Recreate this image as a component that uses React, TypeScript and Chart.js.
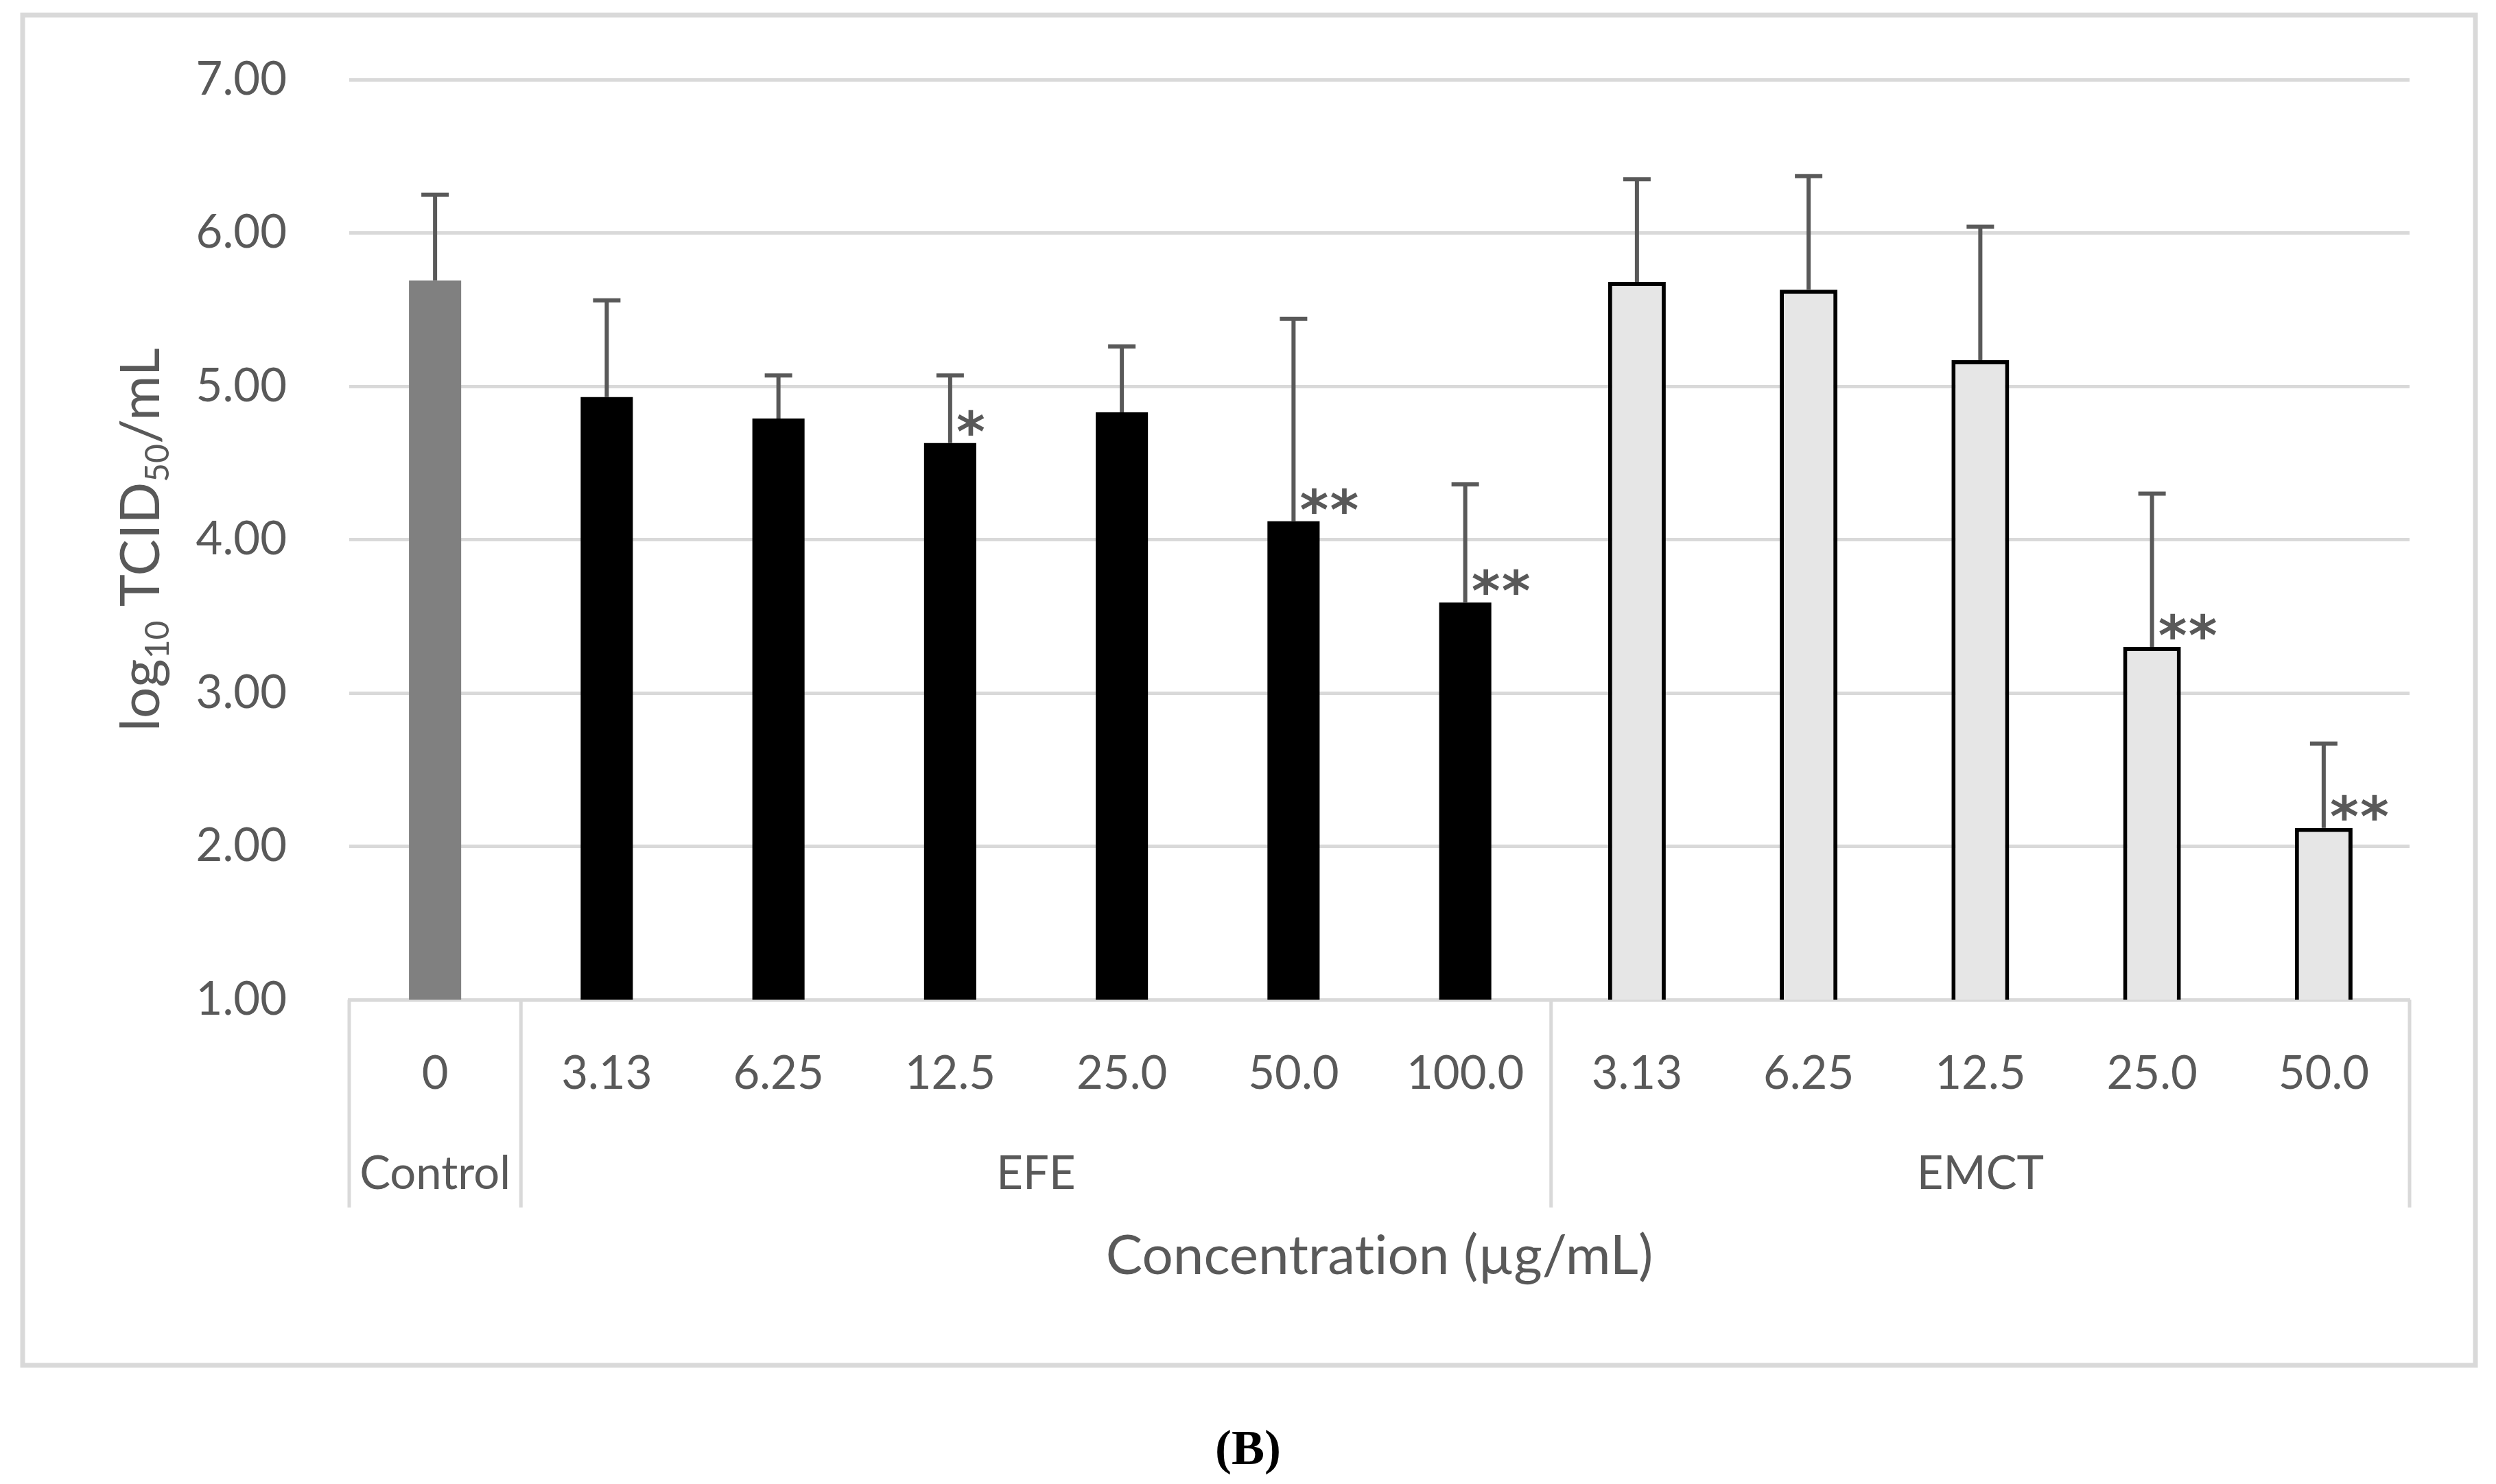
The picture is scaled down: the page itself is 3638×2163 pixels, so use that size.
import React, { useEffect, useRef } from 'react';
import { Chart, registerables } from 'chart.js';

Chart.register(...registerables);

const W = 3638;
const H = 2163;

// ---- data ----
const categories = ['0', '3.13', '6.25', '12.5', '25.0', '50.0', '100.0', '3.13', '6.25', '12.5', '25.0', '50.0'];
const groupNames = ['Control', 'EFE', 'EMCT'];
const groupSizes = [1, 6, 5];

const controlMean = [5.69];
const controlErr = [0.56];
const controlSig = [''];

const efeMeans = [4.93, 4.79, 4.63, 4.83, 4.12, 3.59];
const efeErr = [0.63, 0.28, 0.44, 0.43, 1.32, 0.77];
const efeSig = ['', '', '*', '', '**', '**'];

const emctMeans = [5.68, 5.63, 5.17, 3.30, 2.12];
const emctErr = [0.67, 0.74, 0.87, 1.00, 0.55];
const emctSig = ['', '', '', '**', '**'];

const yTickLabels = ['1.00', '2.00', '3.00', '4.00', '5.00', '6.00', '7.00'];
const yTitleParts: [string, boolean][] = [['log', false], ['10', true], [' TCID', false], ['50', true], ['/mL', false]];
const xTitle = 'Concentration (\u00b5g/mL)';
const caption = '(B)';

// ---- styles ----
const FONT = 'Lato, "Open Sans", sans-serif';
const TEXT = '#595959';
const GRID = '#d9d9d9';

function place(values: (number | string)[], start: number): any[] {
  const out: any[] = new Array(categories.length).fill(null);
  values.forEach((v, i) => { out[start + i] = v; });
  return out;
}

const starts = [0, groupSizes[0], groupSizes[0] + groupSizes[1]];
const errByDataset = [place(controlErr, starts[0]), place(efeErr, starts[1]), place(emctErr, starts[2])];
const sigByDataset = [place(controlSig, starts[0]), place(efeSig, starts[1]), place(emctSig, starts[2])];

const overlay = {
  id: 'overlay',
  beforeDraw(chart: any) {
    const c = chart.ctx;
    c.save();
    c.fillStyle = '#ffffff';
    c.fillRect(0, 0, chart.width, chart.height);
    c.restore();
  },
  afterDatasetsDraw(chart: any) {
    const c = chart.ctx;
    const y = chart.scales.y;
    c.save();
    for (let d = 0; d < chart.data.datasets.length; d++) {
      const meta = chart.getDatasetMeta(d);
      const vals = chart.data.datasets[d].data;
      meta.data.forEach((el: any, i: number) => {
        const v = vals[i];
        if (v == null) return;
        const err = errByDataset[d][i];
        const top = y.getPixelForValue(v + err);
        const base = el.y;
        c.strokeStyle = '#595959';
        c.lineWidth = 6;
        c.beginPath();
        c.moveTo(el.x, base);
        c.lineTo(el.x, top);
        c.moveTo(el.x - 20, top);
        c.lineTo(el.x + 20, top);
        c.stroke();
        const sig = sigByDataset[d][i];
        if (sig) {
          c.fillStyle = '#595959';
          c.font = `bold 80px "DejaVu Sans"`;
          c.textAlign = 'center';
          c.textBaseline = 'alphabetic';
          const m = c.measureText('*');
          const cy = base - 30;
          const baseline = cy + (m.actualBoundingBoxAscent - m.actualBoundingBoxDescent) / 2;
          for (let k = 0; k < sig.length; k++) {
            c.fillText(sig[k], el.x + 30 + k * 44, baseline);
          }
        }
      });
    }
    c.restore();
  },
  afterDraw(chart: any) {
    const c = chart.ctx;
    const xs = chart.scales.x;
    const area = chart.chartArea;
    const n = categories.length;
    const cw = (xs.right - xs.left) / n;
    c.save();
    // group dividers
    c.strokeStyle = GRID;
    c.lineWidth = 5;
    const bounds = [0, starts[1], starts[2], n];
    bounds.forEach((b) => {
      const px = xs.getPixelForValue(Math.min(b, n - 1)) + (b === n ? cw / 2 : -cw / 2);
      c.beginPath();
      c.moveTo(px, area.bottom);
      c.lineTo(px, area.bottom + 303);
      c.stroke();
    });
    // group labels
    c.fillStyle = TEXT;
    c.font = `67px ${FONT}`;
    c.textAlign = 'center';
    c.textBaseline = 'middle';
    groupNames.forEach((g, gi) => {
      const a = xs.getPixelForValue(starts[gi]);
      const b = xs.getPixelForValue(starts[gi] + groupSizes[gi] - 1);
      c.fillText(g, (a + b) / 2, area.bottom + 254);
    });
    // x title
    try { (c as any).textRendering = 'optimizeSpeed'; } catch (e) { /* ignore */ }
    c.font = `80px ${FONT}`;
    c.textBaseline = 'alphabetic';
    c.fillText(xTitle, (area.left + area.right) / 2, 1857);
    // y title with subscripts
    const big = `80px ${FONT}`;
    const small = `48px ${FONT}`;
    let total = 0;
    yTitleParts.forEach(([t, sub]) => {
      c.font = sub ? small : big;
      total += c.measureText(t).width;
    });
    c.translate(232, (area.top + area.bottom) / 2);
    c.rotate(-Math.PI / 2);
    c.textAlign = 'left';
    let x = -total / 2;
    yTitleParts.forEach(([t, sub]) => {
      c.font = sub ? small : big;
      c.fillText(t, x, sub ? 14 : 0);
      x += c.measureText(t).width;
    });
    c.setTransform(1, 0, 0, 1, 0, 0);
    // outer border
    c.strokeStyle = GRID;
    c.lineWidth = 7;
    c.strokeRect(33, 22, 3575, 1968);
    // caption
    c.fillStyle = '#000000';
    c.font = `bold 72px "Liberation Serif", "Times New Roman", serif`;
    c.textAlign = 'center';
    c.textBaseline = 'alphabetic';
    c.fillText(caption, W / 2, 2134);
    c.restore();
  },
};

export default function App() {
  const ref = useRef<HTMLCanvasElement>(null);
  useEffect(() => {
    document.body.style.margin = '0';
    const canvas = ref.current!;
    const chart = new Chart(canvas, {
      type: 'bar',
      data: {
        labels: categories,
        datasets: [
          {
            data: place(controlMean, starts[0]),
            backgroundColor: '#808080',
            borderWidth: 0,
            barPercentage: 0.304,
            categoryPercentage: 1,
            grouped: false,
          } as any,
          {
            data: place(efeMeans, starts[1]),
            backgroundColor: '#000000',
            borderWidth: 0,
            barPercentage: 0.304,
            categoryPercentage: 1,
            grouped: false,
          } as any,
          {
            data: place(emctMeans, starts[2]),
            backgroundColor: '#e6e6e6',
            borderColor: '#000000',
            borderWidth: 6,
            borderSkipped: 'start',
            barPercentage: 0.336,
            categoryPercentage: 1,
            grouped: false,
          } as any,
        ],
      },
      options: {
        responsive: false,
        animation: false,
        devicePixelRatio: 1,
        layout: { padding: { left: 0, top: 116, right: 126, bottom: 0 } },
        plugins: { legend: { display: false }, tooltip: { enabled: false }, title: { display: false } },
        scales: {
          x: {
            grid: { display: false },
            border: { display: true, color: GRID, width: 5 },
            ticks: {
              color: TEXT,
              font: { family: FONT, size: 67 },
              padding: 60,
              maxRotation: 0,
              autoSkip: false,
            },
            afterFit: (s: any) => { s.height = H - 1457; s.paddingLeft = 0; s.paddingRight = 0; },
          },
          y: {
            min: 1,
            max: 7,
            ticks: {
              stepSize: 1,
              color: TEXT,
              font: { family: FONT, size: 67 },
              padding: 91,
              callback: (_v: any, i: number) => yTickLabels[i],
            },
            grid: { color: GRID, lineWidth: 5, drawTicks: false },
            border: { display: false },
            afterFit: (s: any) => { s.width = 509; s.paddingTop = 0; s.paddingBottom = 0; },
          },
        },
      } as any,
      plugins: [overlay],
    });
    return () => chart.destroy();
  }, []);
  return (
    <div style={{ width: W, height: H }}>
      <canvas ref={ref} width={W} height={H} style={{ width: W, height: H, display: 'block' }} />
    </div>
  );
}
